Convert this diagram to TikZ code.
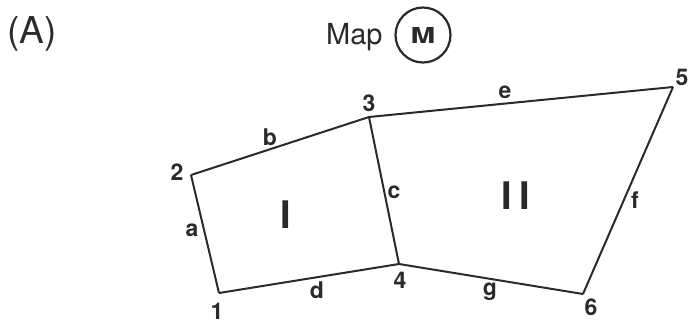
\documentclass[tikz,border=0pt]{standalone}
\usepackage{fontspec}
\setmainfont{TeX Gyre Heros}
\definecolor{ink}{HTML}{2A2A2A}
\tikzset{
  edge/.style={draw=ink, line width=2pt, line join=round},
  lbl/.style={inner sep=0pt, text=ink, font=\fontsize{23}{25}\selectfont\bfseries},
  region/.style={inner sep=0pt, text=ink, font=\fontsize{38}{40}\selectfont\bfseries},
}
\begin{document}
\begin{tikzpicture}[x=1pt, y=-1pt]
\useasboundingbox (0,0) rectangle (688,324);
% vertices
\coordinate (p1) at (219,293);
\coordinate (p2) at (191,175);
\coordinate (p3) at (369,117);
\coordinate (p4) at (399,264);
\coordinate (p5) at (673,87);
\coordinate (p6) at (583,294);
% edges
\draw[edge] (p1) -- (p2);
\draw[edge] (p2) -- (p3);
\draw[edge] (p3) -- (p4);
\draw[edge] (p1) -- (p4);
\draw[edge] (p3) -- (p5);
\draw[edge] (p5) -- (p6);
\draw[edge] (p4) -- (p6);
% vertex labels
\node[lbl] (n1) at (217,311) {1};
\node[lbl] (n2) at (177,172) {2};
\node[lbl] (n3) at (369,103) {3};
\node[lbl] (n4) at (400,280) {4};
\node[lbl] (n5) at (682,77) {5};
\node[lbl] (n6) at (591,307) {6};
% edge labels
\node[lbl] (la) at (192,230) {a};
\node[lbl] (lb) at (270,137) {b};
\node[lbl] (lc) at (394,192) {c};
\node[lbl] (ld) at (317,290) {d};
\node[lbl] (le) at (505,92) {e};
\node[lbl] (lf) at (635,200) {f};
\node[lbl] (lg) at (490,292) {g};
% regions
\node[region] (rI) at (286,215) {I};
\node[region] (rII) at (516,196) {I\kern8pt I};
% title
\node[inner sep=0pt, text=ink, font=\fontsize{37}{40}\selectfont] (tA) at (32,34) {(A)};
\node[inner sep=0pt, text=ink, font=\fontsize{29}{32}\selectfont, anchor=base west] (tmap) at (326,44) {Map};
\node[draw=ink, line width=2.2pt, circle, minimum size=55pt, inner sep=0pt, text=ink, font=\fontsize{22}{24}\selectfont\bfseries] (tM) at (423,35) {\scalebox{1.35}[1]{M}};
\end{tikzpicture}
\end{document}
